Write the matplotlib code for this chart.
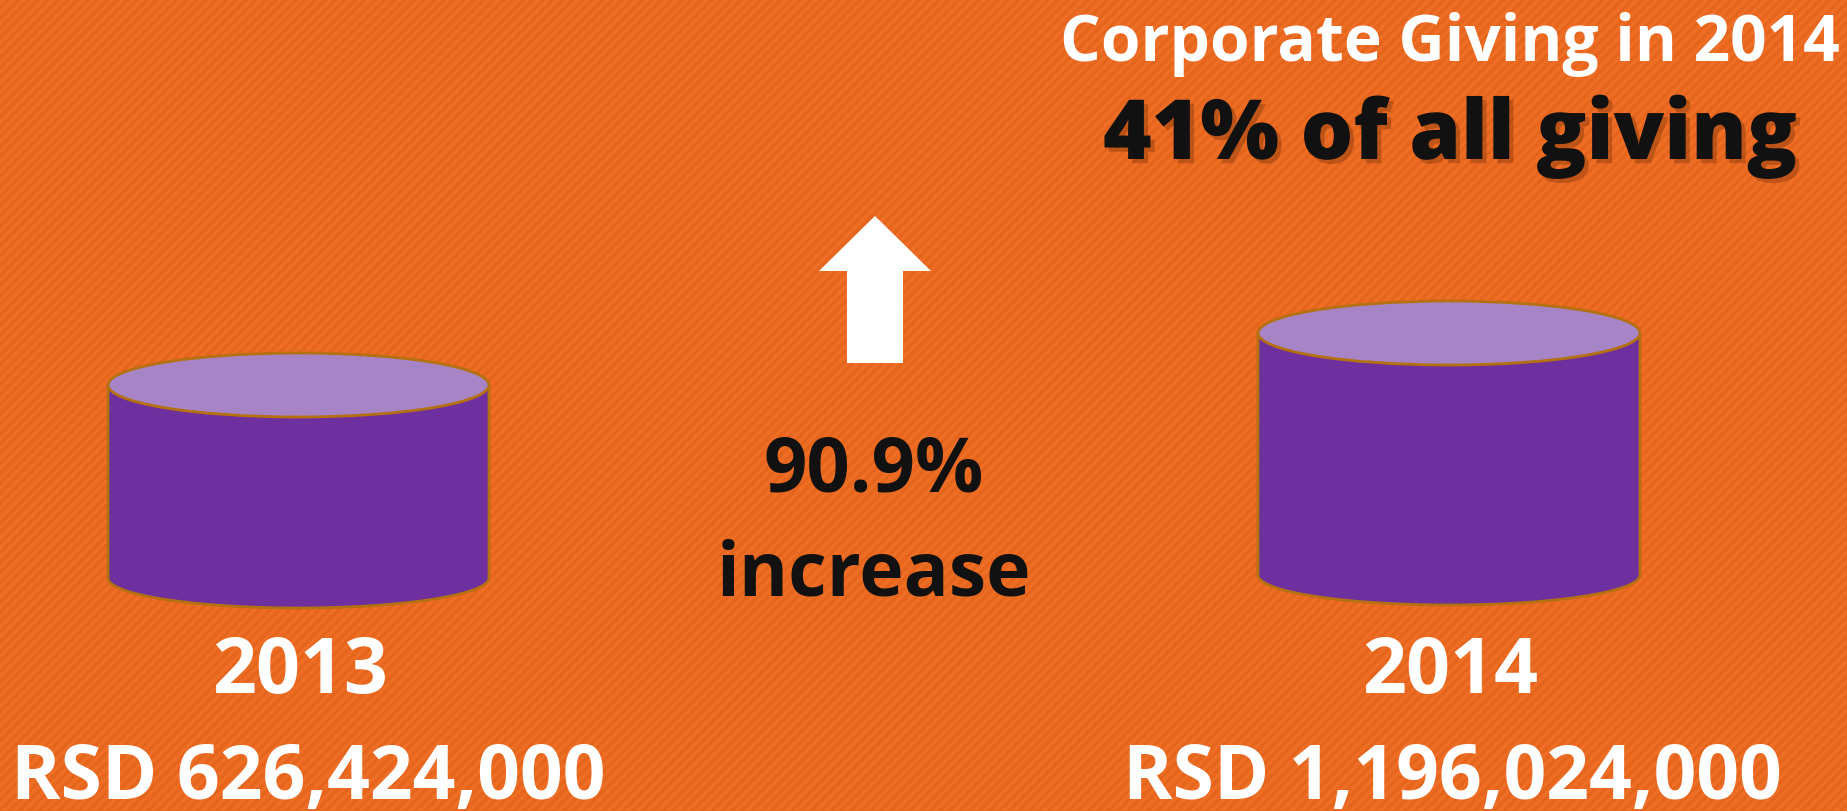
import numpy as np
import matplotlib
matplotlib.use("Agg")
import matplotlib.pyplot as plt
from matplotlib.patches import Ellipse, Polygon
import matplotlib.patheffects as pe

# data
years = ['2013', '2014']
amounts = [626424000, 1196024000]
share_2014 = 41
increase = (amounts[1] / amounts[0] - 1) * 100   # 90.9 %

# layout (pixels, y grows downward)
W, H = 1847, 811
cyl_x = [(108, 489), (1258, 1640)]
cyl_top = [385, 333]
cyl_bot = [578, 575]
rx_top = 32
rx_bot = 30
amount_dx = [10, 3]

orange = '#EB6A22'
purple = '#6E2F9F'
lilac = '#A784C5'
rim = '#B5700F'

plt.rcParams['font.family'] = ['Open Sans', 'DejaVu Sans']

fig = plt.figure(figsize=(W / 100, H / 100), dpi=100)
ax = fig.add_axes([0, 0, 1, 1])
ax.set_xlim(0, W)
ax.set_ylim(H, 0)
ax.axis('off')

# striped orange background (fine "/" stripes)
yy, xx = np.mgrid[0:H, 0:W]
a = np.deg2rad(45)
phase = xx * np.sin(a) + yy * np.cos(a)
base = np.array(matplotlib.colors.to_rgb(orange))
mod = 0.02 * np.sin(2 * np.pi * phase / 7.0)
bg = np.clip(base[None, None, :] + mod[:, :, None], 0, 1)
ax.imshow(bg, extent=[0, W, H, 0], interpolation='nearest', zorder=0)

# cylinders
for (x0, x1), yt, yb in zip(cyl_x, cyl_top, cyl_bot):
    cx = (x0 + x1) / 2
    rw = (x1 - x0) / 2
    t = np.linspace(0, np.pi, 100)
    arc = np.column_stack([cx - rw * np.cos(t), yb + rx_bot * np.sin(t)])
    pts = np.vstack([[x0, yt], arc, [x1, yt]])
    ax.add_patch(Polygon(pts, closed=True, fc=purple, ec=rim, lw=2, zorder=2,
                         joinstyle='round'))
    ax.add_patch(Ellipse((cx, yt), 2 * rw, 2 * rx_top, fc=lilac, ec=rim,
                         lw=2, zorder=3))

# arrow
arrow = [(875, 216), (931, 271), (903, 271), (903, 363), (847, 363),
         (847, 271), (819, 271)]
ax.add_patch(Polygon(arrow, closed=True, fc='white', ec='none', zorder=3))

def px(p):
    return p * 0.72

# labels under cylinders
for (x0, x1), yr, amt, dx in zip(cyl_x, years, amounts, amount_dx):
    cx = (x0 + x1) / 2
    ax.text(cx + 1, 693, yr, color='white', fontsize=px(77), fontweight='bold',
            ha='center', va='baseline', zorder=4)
    ax.text(cx + dx, 799, f'RSD {amt:,}', color='white', fontsize=px(75),
            fontweight='bold', ha='center', va='baseline', zorder=4)

# centre text
ax.text(874, 492, f'{increase:.1f}%', color='#111111', fontsize=px(76),
        fontweight='bold', ha='center', va='baseline', zorder=4)
ax.text(874, 595, 'increase', color='#111111', fontsize=px(75),
        fontweight='bold', ha='center', va='baseline', zorder=4)

# heading
ax.text(1450, 61, 'Corporate Giving in 2014', color='white', fontsize=px(64),
        fontweight='bold', ha='center', va='baseline', zorder=4)
ax.text(1450, 159, f'{share_2014}% of all giving', color='#111111',
        fontsize=px(83), fontweight='heavy', ha='center', va='baseline',
        zorder=4,
        path_effects=[pe.withSimplePatchShadow(offset=(3, -3),
                                               shadow_rgbFace='#6a2c05',
                                               alpha=0.35)])

fig.savefig('out.png', dpi=100)
